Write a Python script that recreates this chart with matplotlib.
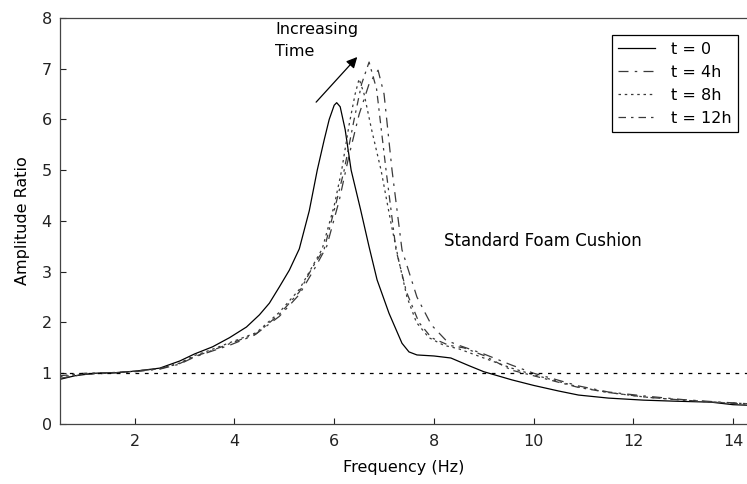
import numpy as np
import matplotlib
matplotlib.use("Agg")
import matplotlib.pyplot as plt

plt.rcParams['font.family'] = ['DejaVu Sans']

# t = 0
f0 = [0.5, 0.8, 1.2, 1.6, 2.0, 2.5, 2.9, 3.2, 3.56, 3.9, 4.24, 4.5, 4.7, 4.9, 5.1, 5.3, 5.5, 5.66, 5.8, 5.9,
      6.0, 6.05, 6.12, 6.22, 6.34, 6.53, 6.7, 6.86, 7.1, 7.36, 7.5, 7.66, 8.0, 8.34, 8.7, 9.0, 9.56, 10.0,
      10.5, 10.9, 11.5, 12.2, 12.8, 13.56, 14.0, 14.28]
a0 = [0.88, 0.95, 1.0, 1.01, 1.04, 1.1, 1.24, 1.38, 1.52, 1.7, 1.91, 2.15, 2.38, 2.7, 3.03, 3.45, 4.2, 5.0, 5.6, 6.0,
      6.28, 6.33, 6.25, 5.8, 5.0, 4.22, 3.49, 2.84, 2.18, 1.59, 1.42, 1.36, 1.34, 1.3, 1.15, 1.03, 0.87, 0.76,
      0.65, 0.57, 0.51, 0.47, 0.45, 0.43, 0.38, 0.37]

# t = 4h
f4 = [0.5, 1.0, 1.5, 2.0, 2.5, 2.9, 3.2, 3.5, 3.9, 4.4, 4.9, 5.3, 5.6, 5.85, 6.1, 6.3, 6.5, 6.7, 6.88, 7.0,
      7.16, 7.36, 7.66, 7.95, 8.24, 8.5, 9.0, 9.56, 10.0, 10.9, 11.5, 12.24, 13.0, 13.6, 14.28]
a4 = [0.9, 0.98, 1.0, 1.03, 1.08, 1.18, 1.32, 1.42, 1.55, 1.75, 2.12, 2.55, 3.05, 3.5, 4.4, 5.3, 6.1, 6.7, 6.97, 6.5,
      5.0, 3.43, 2.5, 1.95, 1.65, 1.55, 1.38, 1.16, 1.0, 0.75, 0.63, 0.55, 0.48, 0.44, 0.4]

# t = 8h
f8 = [0.5, 1.0, 1.5, 2.0, 2.5, 2.9, 3.2, 3.5, 3.9, 4.44, 4.9, 5.3, 5.56, 5.76, 6.0, 6.15, 6.3, 6.42, 6.5, 6.6,
      6.75, 6.94, 7.15, 7.3, 7.46, 7.65, 7.9, 8.2, 8.5, 9.0, 9.56, 10.0, 10.9, 11.5, 12.24, 13.0, 13.6, 14.28]
a8 = [0.93, 0.99, 1.0, 1.04, 1.09, 1.2, 1.35, 1.45, 1.6, 1.8, 2.2, 2.65, 3.1, 3.45, 4.3, 5.0, 5.9, 6.5, 6.8, 6.5,
      5.8, 5.0, 3.9, 3.2, 2.5, 2.0, 1.7, 1.55, 1.48, 1.3, 1.1, 0.97, 0.73, 0.62, 0.53, 0.47, 0.43, 0.4]

# t = 12h
f12 = [0.5, 1.0, 1.5, 2.0, 2.5, 2.9, 3.2, 3.5, 3.9, 4.44, 4.9, 5.3, 5.56, 5.8, 6.05, 6.2, 6.4, 6.55, 6.7, 6.85,
       7.04, 7.24, 7.45, 7.7, 7.95, 8.3, 8.6, 9.0, 9.56, 10.0, 10.9, 11.5, 12.24, 13.0, 13.6, 14.28]
a12 = [0.95, 1.0, 1.01, 1.04, 1.09, 1.19, 1.33, 1.43, 1.58, 1.78, 2.16, 2.6, 3.08, 3.45, 4.4, 5.0, 6.0, 6.7, 7.13, 6.6,
       5.0, 3.43, 2.6, 2.0, 1.7, 1.55, 1.5, 1.35, 1.06, 0.95, 0.72, 0.62, 0.53, 0.47, 0.43, 0.39]

labels = ['t = 0', 't = 4h', 't = 8h', 't = 12h']

fig = plt.figure(figsize=(7.47, 4.84), dpi=100)
ax = fig.add_axes([0.0803, 0.124, 0.9197, 0.839])

ax.plot(f0, a0, color='black', lw=0.9, label=labels[0])
ax.plot(f4, a4, color='#3a3a3a', lw=0.9, linestyle=(0, (8, 5, 2, 5)), label=labels[1])
ax.plot(f8, a8, color='#3a3a3a', lw=0.9, linestyle=(0, (2, 3)), label=labels[2])
ax.plot(f12, a12, color='#3a3a3a', lw=0.9, linestyle=(0, (6, 4, 2, 4)), label=labels[3])
ax.axhline(1.0, color='black', lw=0.9, linestyle=(0, (3, 4.5)))

ax.set_xlim(0.5, 14.28)
ax.set_ylim(0, 8)
ax.set_xticks([2, 4, 6, 8, 10, 12, 14])
ax.set_yticks(range(0, 9))
ax.tick_params(direction='in', length=4, width=0.8, labelsize=11.5, colors='#222222')
ax.tick_params(axis='x', pad=7)
ax.tick_params(axis='y', pad=6)
for s in ['left', 'top', 'bottom']:
    ax.spines[s].set_color('#444444')
    ax.spines[s].set_linewidth(0.9)
ax.spines['right'].set_visible(False)

ax.set_xlabel('Frequency (Hz)', fontsize=11.5, labelpad=8)
ax.set_ylabel('Amplitude Ratio', fontsize=11.5, labelpad=8)

ax.annotate('', xy=(6.5, 7.27), xytext=(5.6, 6.3),
            arrowprops=dict(arrowstyle='-|>', color='black', lw=0.9, mutation_scale=16))
ax.text(4.82, 7.55, 'Increasing\nTime', fontsize=11.5, ha='left', va='center', linespacing=1.6)
ax.text(8.2, 3.6, 'Standard Foam Cushion', fontsize=12, ha='left', va='center')

leg = ax.legend(loc='upper right', bbox_to_anchor=(0.998, 0.977), fontsize=11.5, fancybox=False,
                edgecolor='black', framealpha=1, handlelength=2.3, borderpad=0.4,
                labelspacing=0.5, handletextpad=1.0)
leg.get_frame().set_linewidth(0.9)

fig.savefig('out.png', dpi=100)
